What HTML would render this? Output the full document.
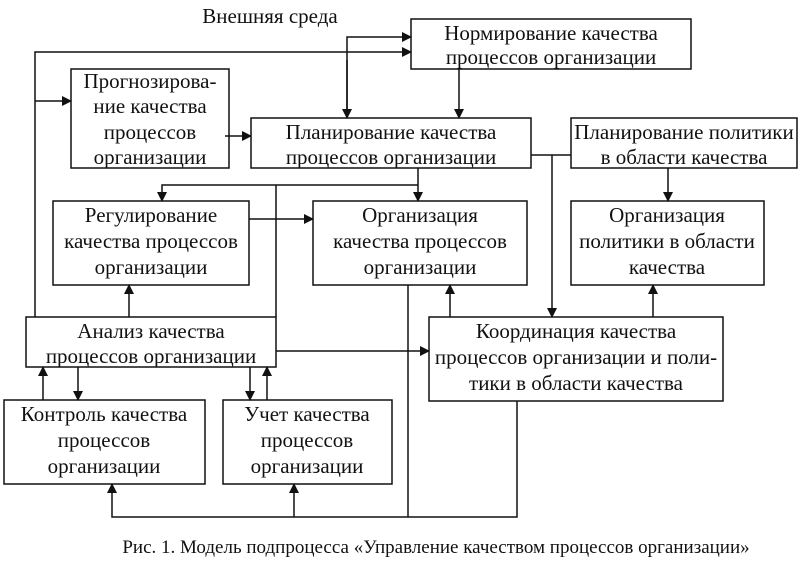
<!DOCTYPE html>
<html><head><meta charset="utf-8"><style>
html,body{margin:0;padding:0;background:#fff;}
svg{display:block}
text{font-family:"Liberation Serif",serif;font-size:21px;fill:#111;text-anchor:middle}
</style></head><body>
<svg width="801" height="563" viewBox="0 0 801 563" xmlns="http://www.w3.org/2000/svg">
<defs><marker id="a" markerWidth="10" markerHeight="10" refX="9" refY="5" orient="auto" markerUnits="userSpaceOnUse"><path d="M0,0 L10,5 L0,10 Z" fill="#111"/></marker></defs>
<g fill="none" stroke="#111" stroke-width="1.5">
<rect x="411" y="19" width="280" height="50"/>
<rect x="71" y="69" width="158" height="99"/>
<rect x="251" y="118" width="280" height="50"/>
<rect x="571" y="118" width="226" height="50"/>
<rect x="53" y="201" width="196" height="84"/>
<rect x="313" y="201" width="214" height="84"/>
<rect x="571" y="201" width="193" height="84"/>
<rect x="26" y="317" width="250" height="50"/>
<rect x="429" y="317" width="294" height="84"/>
<rect x="4" y="400" width="201" height="84"/>
<rect x="223" y="400" width="169" height="84"/>
</g>
<g fill="none" stroke="#111" stroke-width="1.5">
<polyline points="35,317 35,52 411,52" marker-end="url(#a)"/>
<line x1="35" y1="101" x2="71" y2="101" marker-end="url(#a)"/>
<polyline points="347,118 347,37 411,37" marker-end="url(#a)"/>
<line x1="347" y1="60" x2="347" y2="118" marker-end="url(#a)"/>
<line x1="225" y1="136" x2="251" y2="136" marker-end="url(#a)"/>
<line x1="459" y1="69" x2="459" y2="118" marker-end="url(#a)"/>
<line x1="531" y1="155" x2="571" y2="155"/>
<line x1="552" y1="155" x2="552" y2="317" marker-end="url(#a)"/>
<line x1="668" y1="168" x2="668" y2="201" marker-end="url(#a)"/>
<line x1="418" y1="168" x2="418" y2="201" marker-end="url(#a)"/>
<polyline points="418,185 162,185 162,201" marker-end="url(#a)"/>
<line x1="276" y1="185" x2="276" y2="317"/>
<line x1="249" y1="219" x2="313" y2="219" marker-end="url(#a)"/>
<line x1="129" y1="317" x2="129" y2="285" marker-end="url(#a)"/>
<line x1="450" y1="317" x2="450" y2="285" marker-end="url(#a)"/>
<line x1="653" y1="317" x2="653" y2="285" marker-end="url(#a)"/>
<line x1="276" y1="351" x2="429" y2="351" marker-end="url(#a)"/>
<line x1="408" y1="285" x2="408" y2="517"/>
<polyline points="517,401 517,517 112,517 112,484" marker-end="url(#a)"/>
<line x1="294" y1="517" x2="294" y2="484" marker-end="url(#a)"/>
<line x1="43" y1="400" x2="43" y2="367" marker-end="url(#a)"/>
<line x1="78" y1="367" x2="78" y2="400" marker-end="url(#a)"/>
<line x1="250" y1="367" x2="250" y2="400" marker-end="url(#a)"/>
<line x1="267" y1="400" x2="267" y2="367" marker-end="url(#a)"/>
</g>
<text x="270" y="23">Внешняя среда</text>
<text x="551" y="40">Нормирование качества</text>
<text x="551" y="64">процессов организации</text>
<text x="150" y="88">Прогнозирова-</text>
<text x="150" y="113">ние качества</text>
<text x="150" y="139">процессов</text>
<text x="150" y="164">организации</text>
<text x="391" y="139">Планирование качества</text>
<text x="391" y="164">процессов организации</text>
<text x="684" y="139">Планирование политики</text>
<text x="684" y="164">в области качества</text>
<text x="151" y="222">Регулирование</text>
<text x="151" y="248">качества процессов</text>
<text x="151" y="274">организации</text>
<text x="420" y="222">Организация</text>
<text x="420" y="248">качества процессов</text>
<text x="420" y="274">организации</text>
<text x="667" y="222">Организация</text>
<text x="667" y="248">политики в области</text>
<text x="667" y="274">качества</text>
<text x="151" y="338">Анализ качества</text>
<text x="151" y="363">процессов организации</text>
<text x="576" y="338">Координация качества</text>
<text x="576" y="364">процессов организации и поли-</text>
<text x="576" y="390">тики в области качества</text>
<text x="104" y="421">Контроль качества</text>
<text x="104" y="447">процессов</text>
<text x="104" y="473">организации</text>
<text x="307" y="421">Учет качества</text>
<text x="307" y="447">процессов</text>
<text x="307" y="473">организации</text>
<text x="436" y="553" style="font-size:19px">Рис. 1. Модель подпроцесса «Управление качеством процессов организации»</text>
</svg>
</body></html>
